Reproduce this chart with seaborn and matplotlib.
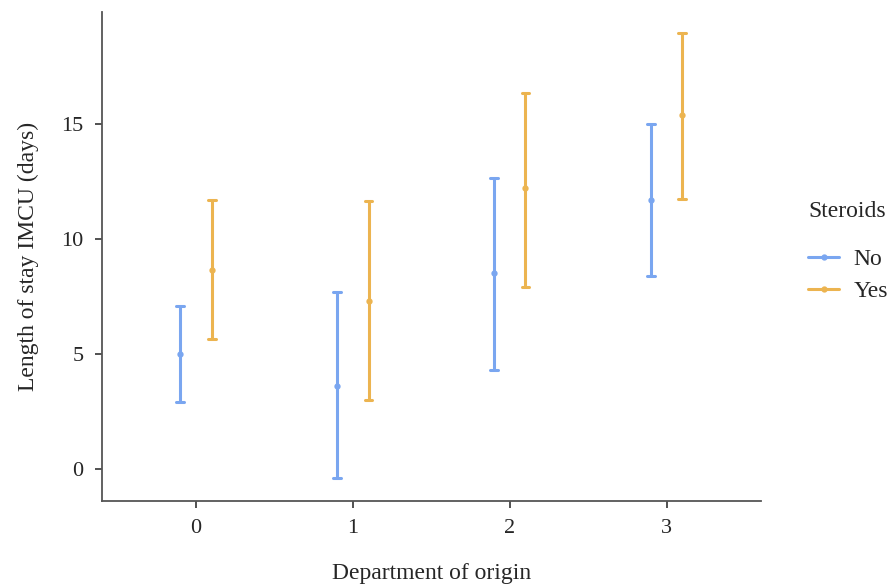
import pandas as pd
import numpy as np
import matplotlib.pyplot as plt
import seaborn as sns

departments = ["0", "1", "2", "3"]
steroids = ["No", "Yes"]
no_lower = [2.9, -0.4, 4.3, 8.4]
no_mean = [5.0, 3.6, 8.5, 11.7]
no_upper = [7.1, 7.7, 12.65, 15.0]
yes_lower = [5.65, 3.0, 7.9, 11.75]
yes_mean = [8.65, 7.3, 12.2, 15.4]
yes_upper = [11.7, 11.65, 16.35, 18.95]

# long form: lower / mean / upper per group, median picks the mean, min-max gives the interval
rows = []
for grp, lo, mid, hi in [("No", no_lower, no_mean, no_upper), ("Yes", yes_lower, yes_mean, yes_upper)]:
    for d, a, b, c in zip(departments, lo, mid, hi):
        for v in (a, b, c):
            rows.append({"Department": d, "Steroids": grp, "LOS": v})
df = pd.DataFrame(rows)

sns.set_style("white")
plt.rcParams['font.family'] = ['Liberation Serif', 'DejaVu Serif']

fig = plt.figure(figsize=(8.93, 5.84), dpi=100)
ax = fig.add_axes([0.114, 0.142, 0.738, 0.837])

palette = {"No": "#7aa6f0", "Yes": "#ecb450"}
sns.pointplot(data=df, x="Department", y="LOS", hue="Steroids", order=departments,
              hue_order=steroids, estimator="median", errorbar=lambda v: (v.min(), v.max()),
              dodge=0.2, linestyle="none", markers="o", markersize=2.5, capsize=0.05,
              err_kws={"linewidth": 2.2}, palette=palette, ax=ax)

ax.set_xlim(-0.6, 3.6)
ax.set_ylim(-1.4, 19.85)
ax.set_yticks([0, 5, 10, 15])
ax.set_xlabel("Department of origin", fontsize=17, labelpad=18)
ax.set_ylabel("Length of stay IMCU (days)", fontsize=17, labelpad=16)
ax.tick_params(axis="both", labelsize=16, length=5, width=1.2, color="#333333",
               bottom=True, left=True, pad=8)
for s in ["top", "right"]:
    ax.spines[s].set_visible(False)
for s in ["left", "bottom"]:
    ax.spines[s].set_color("#555555")
    ax.spines[s].set_linewidth(1.3)

handles, labels = ax.get_legend_handles_labels()
for h in handles:
    h.set_linestyle("-")
    h.set_linewidth(2.2)
leg = ax.legend(handles, labels, title="Steroids", frameon=False, fontsize=17, title_fontsize=17,
                loc="upper left", bbox_to_anchor=(1.04, 0.657), handlelength=1.3,
                handletextpad=0.6, labelspacing=0.45)
leg._legend_box.align = "left"
leg._legend_box.sep = 19

fig.savefig("out.png", dpi=100)
